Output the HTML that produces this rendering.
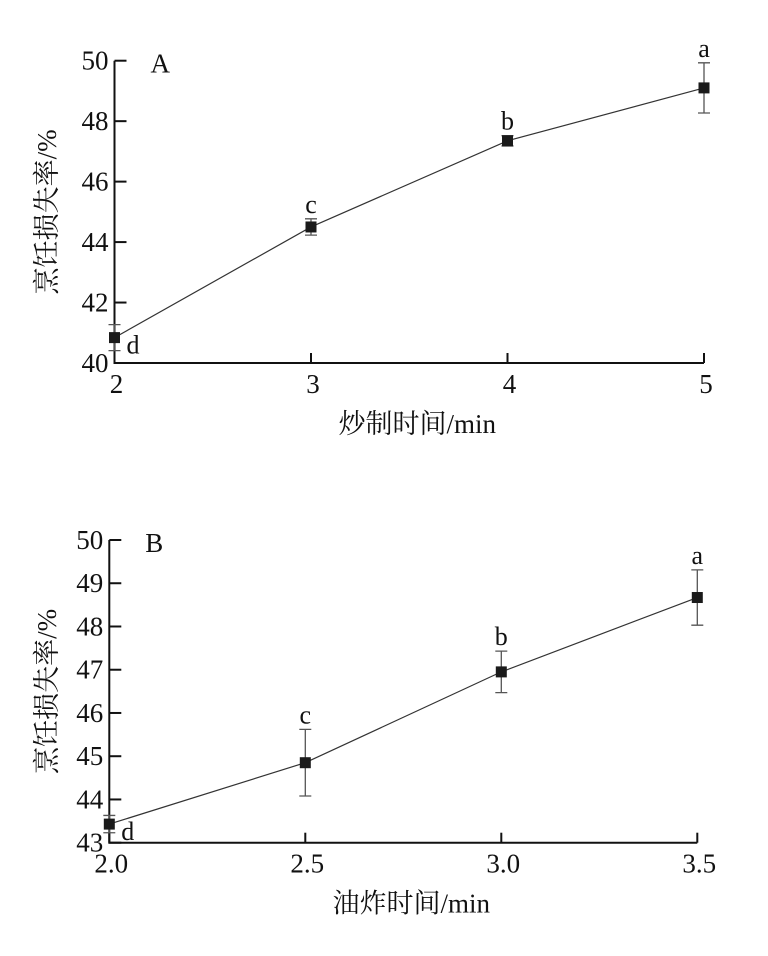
<!DOCTYPE html>
<html><head><meta charset="utf-8"><style>
body{margin:0;background:#fff}
svg text{font-family:"Liberation Serif","Noto Serif CJK SC","Noto Sans CJK SC",serif;fill:#111}
</style></head><body>
<svg id="chart" width="768" height="951" viewBox="0 0 768 951"></svg>
<script>
const xA = [2, 3, 4, 5];
const yA = [40.84, 44.5, 47.35, 49.1];
const eA = [0.43, 0.27, 0.17, 0.83];
const lblA = ['d', 'c', 'b', 'a'];
const yTicksA = [40, 42, 44, 46, 48, 50];
const xTicksA = ['2', '3', '4', '5'];

const xB = [2.0, 2.5, 3.0, 3.5];
const yB = [43.43, 44.85, 46.95, 48.67];
const eB = [0.2, 0.77, 0.48, 0.64];
const lblB = ['d', 'c', 'b', 'a'];
const yTicksB = [43, 44, 45, 46, 47, 48, 49, 50];
const xTicksB = ['2.0', '2.5', '3.0', '3.5'];

const NS = 'http://www.w3.org/2000/svg';
const svg = document.getElementById('chart');
function mk(tag, attrs, parent) {
  const e = document.createElementNS(NS, tag);
  for (const k in attrs) e.setAttribute(k, attrs[k]);
  (parent || svg).appendChild(e);
  return e;
}

function panel(cfg) {
  const g = mk('g', {});
  
  
  const sx = v => cfg.x0 + (v - cfg.xmin) / (cfg.xmax - cfg.xmin) * (cfg.x1 - cfg.x0);
  const sy = v => cfg.y0 - (v - cfg.ymin) / (cfg.ymax - cfg.ymin) * (cfg.y0 - cfg.y1);
  // axes
  const ax = mk('path', {d: `M${cfg.x0},${cfg.y1} V${cfg.y0} H${cfg.x1}`, stroke: '#111', 'stroke-width': 2, fill: 'none'}, g);
  
  
  cfg.yTicks.forEach(t => {
    const y = sy(t);
    const l = mk('line', {x1: cfg.x0, x2: cfg.x0 + 12, y1: y, y2: y, stroke: '#111', 'stroke-width': 2}, g);
    
    
    const tx = mk('text', {x: cfg.x0 - 6, y: y + 9, 'text-anchor': 'end', 'font-size': 27}, g);
    tx.textContent = t;
    
    
  });
  cfg.xTicks.forEach(t => {
    const x = sx(parseFloat(t));
    const l = mk('line', {x1: x, x2: x, y1: cfg.y0, y2: cfg.y0 - 10, stroke: '#111', 'stroke-width': 2}, g);
    
    
    const tx = mk('text', {x: x + 2, y: cfg.y0 + 30, 'text-anchor': 'middle', 'font-size': 27}, g);
    tx.textContent = t;
    
    
  });
  // line
  const pts = cfg.xs.map((v, i) => sx(v) + ',' + sy(cfg.ys[i])).join(' ');
  const pl = mk('polyline', {points: pts, fill: 'none', stroke: '#333', 'stroke-width': 1.2}, g);
  
  
  cfg.xs.forEach((v, i) => {
    const x = sx(v), y = sy(cfg.ys[i]), yt = sy(cfg.ys[i] + cfg.es[i]), yb = sy(cfg.ys[i] - cfg.es[i]);
    const eb = mk('path', {d: `M${x},${yt} V${yb} M${x - 6},${yt} H${x + 6} M${x - 6},${yb} H${x + 6}`, stroke: '#555', 'stroke-width': 1.3, fill: 'none'}, g);
    
    
    const r = mk('rect', {x: x - 5.5, y: y - 5.5, width: 11, height: 11, fill: '#1a1a1a'}, g);
    
    
    const t = mk('text', {'font-size': 26}, g);
    if (i === 0) { t.setAttribute('x', x + 12); t.setAttribute('y', y + 16); }
    else { t.setAttribute('x', x); t.setAttribute('y', yt - 6); t.setAttribute('text-anchor', 'middle'); }
    t.textContent = cfg.lbls[i];
    
    
  });
  const pt = mk('text', {x: cfg.x0 + 36, y: cfg.y1 + 12, 'font-size': 27}, g);
  pt.textContent = cfg.title;
  
  
  const xt = mk('text', {x: (cfg.x0 + cfg.x1) / 2 + 8, y: cfg.y0 + 70, 'text-anchor': 'middle', 'font-size': 27}, g);
  xt.textContent = cfg.xlabel;
  
  
  const cy = (cfg.y0 + cfg.y1) / 2;
  const yt = mk('text', {x: 0, y: 0, 'text-anchor': 'middle', 'font-size': 27, transform: `translate(56,${cy}) rotate(-90)`}, g);
  yt.textContent = '烹饪损失率/%';
  
  
}

panel({name: 'chart-a', x0: 114.5, x1: 704, y0: 363, y1: 60.7, xmin: 2, xmax: 5, ymin: 40, ymax: 50,
  xs: xA, ys: yA, es: eA, lbls: lblA, yTicks: yTicksA, xTicks: xTicksA, title: 'A', xlabel: '炒制时间/min'});
panel({name: 'chart-b', x0: 109.3, x1: 697.3, y0: 842.7, y1: 540, xmin: 2, xmax: 3.5, ymin: 43, ymax: 50,
  xs: xB, ys: yB, es: eB, lbls: lblB, yTicks: yTicksB, xTicks: xTicksB, title: 'B', xlabel: '油炸时间/min'});
</script>
</body></html>
